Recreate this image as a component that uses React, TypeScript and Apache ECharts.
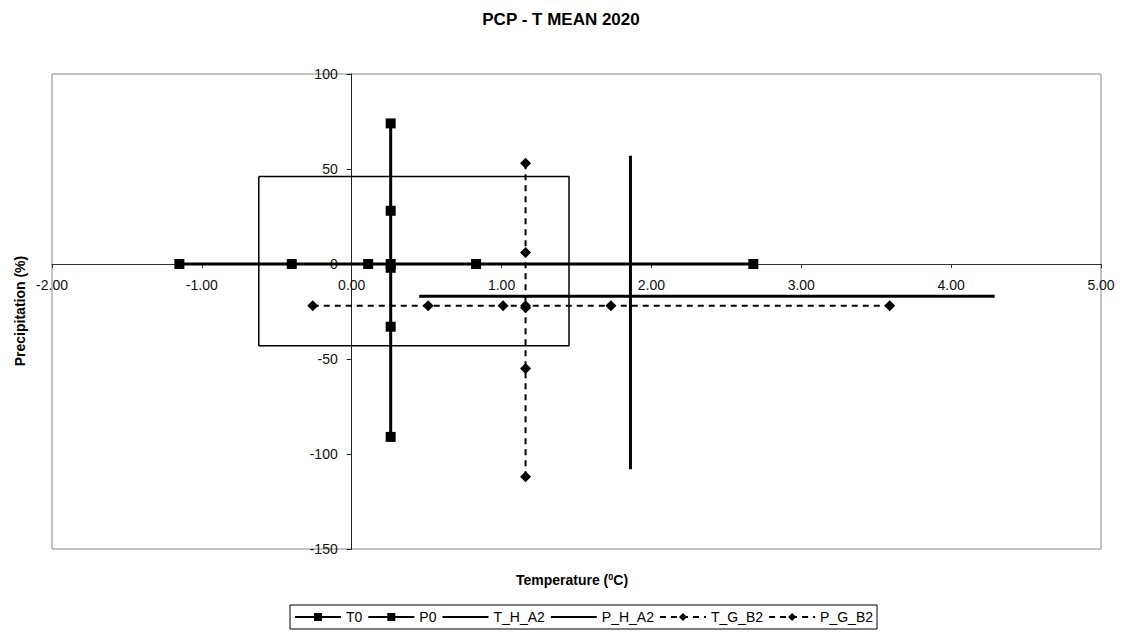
import React, { useEffect, useRef } from "react";
import * as echarts from "echarts";

const FONT = "'Liberation Sans', Arial, sans-serif";

const title = "PCP - T MEAN 2020";
const xTickMin = -2;
const xTickMax = 5;
const yTickMin = -150;
const yTickMax = 100;

const t0X = [-1.15, -0.4, 0.11, 0.26, 0.83, 2.68];
const t0Y = [0, 0, 0, 0, 0, 0];
const p0X = [0.26, 0.26, 0.26, 0.26, 0.26];
const p0Y = [74, 28, -2, -33, -91];
const thA2X = [0.45, 4.29];
const thA2Y = [-17, -17];
const phA2X = [1.86, 1.86];
const phA2Y = [57, -108];
const tgB2X = [-0.26, 0.51, 1.01, 1.16, 1.73, 3.59];
const tgB2Y = [-22, -22, -22, -22, -22, -22];
const pgB2X = [1.16, 1.16, 1.16, 1.16, 1.16];
const pgB2Y = [53, 6, -23, -55, -112];
const boxX = [-0.62, 1.45, 1.45, -0.62, -0.62];
const boxY = [46, 46, -43, -43, 46];

const seriesNames = ["T0", "P0", "T_H_A2", "P_H_A2", "T_G_B2", "P_G_B2"];
const noMarkerNames = ["T_H_A2", "P_H_A2"];

const zip = (xs: number[], ys: number[]) => xs.map((x, i) => [x, ys[i]]);

export default function App() {
  const ref = useRef<HTMLDivElement>(null);
  useEffect(() => {
    if (!ref.current) return;
    const chart = echarts.init(ref.current, null, { renderer: "svg" });
    const gridLeft = 52;
    const gridRight = 21;
    const gridTop = 74;
    const gridBottom = 84;
    const plotW = 1122 - gridLeft - gridRight;
    const plotH = 633 - gridTop - gridBottom;
    // offsets to place axes at the zero crossing
    const xZeroOffset = -(plotH * (0 - yTickMin)) / (yTickMax - yTickMin);
    const yZeroOffset = -(plotW * (0 - xTickMin)) / (xTickMax - xTickMin);

    const solid = (name: string, data: number[][], marker: boolean) => ({
      name,
      type: "line",
      data,
      symbol: marker ? "rect" : "none",
      symbolSize: 10,
      showSymbol: marker,
      itemStyle: { color: "#000" },
      lineStyle: { color: "#000", width: 3 },
      z: 3,
    });
    const dashed = (name: string, data: number[][]) => ({
      name,
      type: "line",
      data,
      symbol: "diamond",
      symbolSize: 11,
      itemStyle: { color: "#000" },
      lineStyle: { color: "#000", width: 2, type: [6, 5] },
      z: 3,
    });
    chart.setOption({
      animation: false,
      backgroundColor: "#fff",
      textStyle: { fontFamily: FONT },
      grid: {
        left: gridLeft,
        right: gridRight,
        top: gridTop,
        bottom: gridBottom,
        show: true,
        borderColor: "#888",
        borderWidth: 1,
        backgroundColor: "transparent",
      },
      xAxis: {
        type: "value",
        min: xTickMin,
        max: xTickMax,
        interval: 1,
        offset: xZeroOffset,
        axisLine: { onZero: false, lineStyle: { color: "#333", width: 1 } },
        axisTick: { show: true, length: 4, lineStyle: { color: "#333" } },
        axisLabel: {
          formatter: (v: number) => v.toFixed(2),
          fontSize: 14,
          color: "#111",
          fontFamily: FONT,
          margin: 14,
        },
        splitLine: { show: false },
      },
      yAxis: {
        type: "value",
        min: yTickMin,
        max: yTickMax,
        interval: 50,
        offset: yZeroOffset,
        axisLine: { onZero: false, lineStyle: { color: "#222", width: 1 } },
        axisTick: { show: true, length: 5, lineStyle: { color: "#222" } },
        axisLabel: {
          fontSize: 14,
          color: "#111",
          fontFamily: FONT,
          margin: 14,
        },
        splitLine: { show: false },
      },
      legend: {
        data: seriesNames.map((n) =>
          noMarkerNames.includes(n)
            ? { name: n, itemStyle: { color: "transparent", opacity: 0, borderWidth: 0 } }
            : { name: n }
        ),
        left: 290,
        top: 605,
        padding: [5, 4],
        itemWidth: 46,
        itemHeight: 10,
        itemGap: 5,
        borderColor: "#000",
        borderWidth: 1,
        borderRadius: 0,
        textStyle: { fontSize: 14, color: "#000", fontFamily: FONT },
      },
      graphic: [
        {
          type: "text",
          x: 561,
          y: 19,
          style: {
            text: title,
            fontSize: 17,
            fontWeight: "bold",
            fontFamily: FONT,
            fill: "#000",
            align: "center",
            verticalAlign: "middle",
          },
        },
        {
          type: "text",
          x: 20,
          y: 311,
          rotation: Math.PI / 2,
          style: {
            text: "Precipitation (%)",
            fontSize: 14,
            fontWeight: "bold",
            fontFamily: FONT,
            fill: "#000",
            align: "center",
            verticalAlign: "middle",
          },
        },
        {
          type: "text",
          x: 572,
          y: 580,
          style: {
            text: "Temperature ({sup|0}C)",
            fontSize: 14,
            fontWeight: "bold",
            fontFamily: FONT,
            fill: "#000",
            align: "center",
            verticalAlign: "middle",
            rich: {
              sup: {
                fontSize: 9,
                fontWeight: "bold",
                fontFamily: FONT,
                fill: "#000",
                verticalAlign: "top",
                padding: [0, 0, 6, 0],
              },
            },
          },
        },
      ],
      series: [
        {
          name: "box",
          type: "line",
          data: zip(boxX, boxY),
          symbol: "none",
          lineStyle: { color: "#000", width: 1.5 },
          z: 2,
        },
        solid("T0", zip(t0X, t0Y), true),
        solid("P0", zip(p0X, p0Y), true),
        solid("T_H_A2", zip(thA2X, thA2Y), false),
        solid("P_H_A2", zip(phA2X, phA2Y), false),
        dashed("T_G_B2", zip(tgB2X, tgB2Y)),
        dashed("P_G_B2", zip(pgB2X, pgB2Y)),
      ],
    });
    return () => chart.dispose();
  }, []);
  return (
    <div
      ref={ref}
      style={{ position: "absolute", left: 0, top: 0, width: 1122, height: 633 }}
    />
  );
}
